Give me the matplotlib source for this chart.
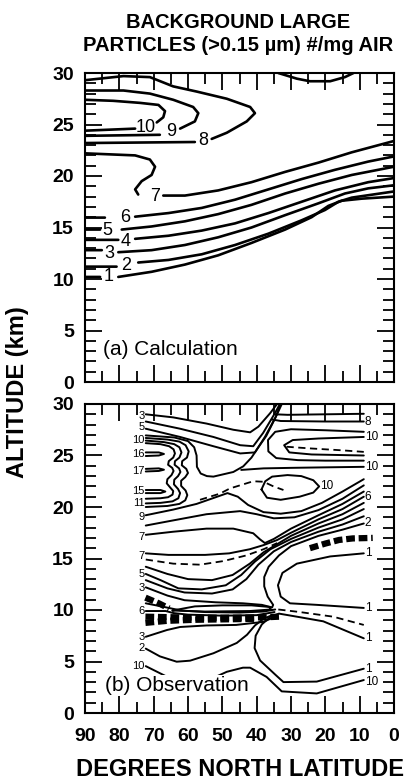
import matplotlib
matplotlib.use("Agg")
import matplotlib.pyplot as plt
import numpy as np

plt.rcParams['font.family'] = ['Liberation Sans', 'DejaVu Sans']

nan = np.nan

# ── Panel (a) calculation: contour traces (lat, km); nan = gap for label ─────
a_c1 = [(90, 10.2), (85.6, 10.2), (nan, nan), (80.3, 10.2), (70.6, 10.7), (60.9, 11.4),
        (51.2, 12.3), (41.5, 13.5), (31.7, 14.8), (24.0, 16.0), (19.1, 17.1),
        (15.2, 17.6), (9.4, 17.8), (0, 18.0)]
a_c2 = [(90, 11.2), (80.8, 11.2), (nan, nan), (74.5, 11.6), (65.7, 11.85), (56.0, 12.4),
        (46.3, 13.3), (36.6, 14.4), (26.9, 15.7), (20.1, 16.7), (16.2, 17.5),
        (12.3, 17.9), (0, 18.5)]
a_c3 = [(90, 12.8), (85.1, 12.8), (nan, nan), (80.3, 12.6), (70.6, 12.8), (60.9, 13.3),
        (51.2, 14.05), (41.5, 15.0), (31.7, 16.2), (22.0, 17.35), (14.3, 18.3),
        (7.5, 18.8), (0, 19.1)]
a_c4 = [(90, 13.8), (80.3, 13.8), (nan, nan), (75.4, 13.9), (65.7, 14.2), (56.0, 14.7),
        (46.3, 15.4), (36.6, 16.4), (26.9, 17.5), (17.2, 18.6), (7.5, 19.4), (0, 19.8)]
a_c5 = [(90, 14.8), (85.6, 14.8), (nan, nan), (79.3, 14.8), (70.6, 15.1), (60.9, 15.6),
        (51.2, 16.3), (41.5, 17.2), (31.7, 18.3), (22.0, 19.25), (12.3, 20.1), (0, 20.9)]
a_c6 = [(90, 15.96), (84.2, 15.96), (nan, nan), (75.4, 16.05), (65.7, 16.4), (56.0, 16.9),
        (46.3, 17.7), (36.6, 18.7), (26.9, 19.7), (17.2, 20.6), (7.5, 21.4), (0, 21.9)]
a_c7 = [(90, 22.2), (75.4, 22.0), (71.1, 21.6), (69.6, 20.9), (70.6, 20.1), (73.5, 19.5),
        (75.4, 18.7), (74.5, 18.2), (nan, nan), (67.2, 18.1), (60.9, 18.1), (51.2, 18.6),
        (41.5, 19.4), (31.7, 20.4), (22.0, 21.3), (12.3, 22.3), (0, 23.4)]
a_c8 = [(90, 23.2), (58.0, 23.3), (nan, nan), (53.1, 23.6), (48.7, 24.2), (42.9, 25.3),
        (40.5, 26.1), (41.9, 26.7), (48.7, 27.5), (57.5, 28.2), (64.3, 28.7),
        (71.1, 29.6), (78.8, 29.7), (90, 29.3)]
a_c9 = [(90, 23.9), (68.2, 24.0), (nan, nan), (62.3, 24.6), (58.0, 25.3), (57.0, 26.1),
        (58.5, 26.7), (64.3, 27.4), (71.1, 28.0), (78.8, 28.3), (90, 28.3)]
a_c10 = [(90, 24.4), (75.4, 24.6), (nan, nan), (69.1, 25.2), (67.2, 25.7), (66.7, 26.3),
         (68.6, 26.9), (74.0, 27.1), (81.8, 27.3), (90, 27.4)]
a_top = [(33.7, 30.0), (28.3, 29.45), (24.5, 29.2), (18.6, 29.2), (14.3, 29.6), (11.8, 30.0)]

a_lines = [a_c1, a_c2, a_c3, a_c4, a_c5, a_c6, a_c7, a_c8, a_c9, a_c10, a_top]
a_labels = ["1", "2", "3", "4", "5", "6", "7", "8", "9", "10"]
a_label_pos = [(83.2, 10.2), (77.9, 11.35), (83.0, 12.5), (78.2, 13.6), (83.4, 14.7),
               (78.2, 15.95), (69.6, 18.05), (55.5, 23.45), (65.0, 24.3), (72.2, 24.75)]

# ── Panel (b) observation: contour traces (lat, km) ──────────────────────────
b_top3 = [(72.3, 29.0), (64.3, 28.7), (54.6, 28.1), (46.8, 27.5), (41.9, 27.25),
          (39.5, 27.8), (36.1, 29.1), (33.6, 30.2)]
b_top4 = [(72.3, 28.3), (62.3, 27.6), (52.6, 26.8), (44.8, 26.0), (41.0, 25.9),
          (38.1, 27.2), (34.7, 29.1), (32.9, 30.2)]
b_top5 = [(72.3, 27.6), (62.3, 26.8), (52.6, 25.9), (44.8, 25.2), (40.5, 25.3),
          (37.6, 26.8), (34.2, 28.9), (32.4, 30.2)]
b_w1 = [(72.3, 26.2), (68.0, 26.1), (65.5, 25.9), (64.2, 25.6), (63.8, 25.2), (64.3, 24.8),
        (65.6, 24.45), (65.8, 24.1), (64.6, 23.8), (64.2, 23.5), (64.8, 23.1), (66.0, 22.7),
        (66.2, 22.3), (65.2, 21.9), (64.3, 21.55), (64.5, 21.2), (65.8, 20.95), (68.0, 20.85),
        (72.3, 20.8)]
b_w2 = [(72.3, 26.45), (67.0, 26.3), (64.0, 26.1), (62.5, 25.8), (61.9, 25.3), (62.5, 24.8),
        (63.8, 24.45), (63.9, 24.1), (62.6, 23.75), (62.2, 23.4), (62.9, 23.0), (64.0, 22.65),
        (64.1, 22.2), (62.9, 21.75), (62.3, 21.35), (62.8, 20.85), (64.5, 20.55), (68.0, 20.4),
        (72.3, 20.35)]
b_w3 = [(72.3, 26.7), (66.0, 26.55), (62.5, 26.35), (60.7, 26.0), (59.8, 25.4), (60.3, 24.8),
        (61.7, 24.45), (61.8, 24.05), (60.5, 23.7), (60.0, 23.3), (60.8, 22.9), (62.0, 22.55),
        (62.0, 22.05), (60.7, 21.6), (60.2, 21.15), (60.8, 20.65), (62.5, 20.3), (66.0, 20.1),
        (72.3, 20.0)]
b_w10 = [(72.3, 26.95), (64.0, 26.75), (60.0, 26.4), (58.2, 25.8), (57.5, 25.0), (57.4, 23.9),
         (56.3, 23.25), (54.5, 23.0), (52.6, 22.95), (46.8, 23.4), (43.9, 23.95), (41.5, 24.8),
         (39.5, 25.8), (37.2, 26.9), (34.5, 28.7), (32.8, 30.2)]
b_t16 = [(72.3, 25.3), (68.5, 25.3), (67.0, 25.15), (68.5, 25.0), (72.3, 24.95)]
b_t17 = [(72.3, 23.7), (68.5, 23.75), (67.0, 23.62), (68.5, 23.5), (72.3, 23.45)]
b_t15 = [(72.3, 21.65), (68.0, 21.65), (66.6, 21.5), (68.0, 21.35), (72.3, 21.35)]
b_r29 = [(34.6, 29.0), (31.0, 28.95), (20.0, 29.0), (8.8, 29.05)]
b_r8 = [(35.6, 28.5), (33.0, 28.35), (20.0, 28.3), (8.8, 28.3)]
b_u_out = [(8.8, 27.3), (20.0, 27.45), (30.0, 27.55), (34.6, 27.3), (36.7, 26.5), (36.6, 25.4),
           (34.3, 24.75), (28.0, 24.55), (20.0, 24.5), (8.8, 24.5)]
b_u_in = [(8.8, 26.8), (22.0, 26.65), (29.5, 26.5), (32.0, 26.0), (30.5, 25.3), (24.0, 25.1),
          (8.8, 25.0)]
b_r10 = [(44.5, 23.6), (38.0, 23.75), (30.0, 23.8), (20.0, 23.85), (8.8, 23.9)]
b_loop10 = [(38.6, 21.7), (37.5, 22.5), (35.5, 22.95), (31.0, 23.1), (27.0, 23.0), (23.5, 22.6),
            (21.8, 22.0), (23.5, 21.4), (27.5, 21.0), (33.0, 20.7), (37.0, 20.9), (38.6, 21.7)]
b_s9 = [(72.3, 19.2), (64.3, 19.75), (57.5, 20.3), (51.5, 21.0), (48.5, 21.35), (45.5, 21.0),
        (42.5, 20.2), (38.0, 19.5), (33.0, 19.35), (27.0, 19.6), (21.0, 20.4), (15.0, 21.5),
        (8.8, 22.7)]
b_s8 = [(72.3, 18.2), (64.3, 18.7), (54.6, 19.3), (44.8, 19.6), (40.0, 19.3), (35.0, 18.9),
        (29.0, 19.0), (22.0, 19.7), (15.0, 20.8), (8.8, 22.1)]
b_c7u = [(72.3, 17.3), (64.3, 17.6), (54.6, 17.9), (46.8, 17.9), (41.0, 17.45), (39.0, 16.85),
         (37.6, 16.5), (35.0, 16.9), (30.0, 17.9), (22.0, 19.2), (15.0, 20.3), (8.8, 21.5)]
b_c7l = [(72.3, 15.5), (65.7, 15.35), (55.0, 15.35), (48.0, 15.5), (42.0, 15.9), (38.0, 16.3),
         (34.0, 16.8), (30.0, 17.5), (22.0, 18.8), (15.0, 19.8), (8.8, 21.0)]
b_c6 = [(72.3, 14.2), (66.0, 13.5), (60.0, 13.0), (53.0, 12.9), (47.0, 13.4), (42.0, 14.5),
        (38.0, 15.6), (34.0, 16.4), (30.0, 17.2), (22.0, 18.4), (15.0, 19.3), (8.8, 20.4)]
b_c5 = [(72.3, 13.5), (68.0, 12.9), (62.8, 12.1), (56.0, 12.0), (49.0, 12.4), (44.5, 13.4),
        (40.5, 14.7), (36.0, 15.9), (30.0, 16.9), (22.0, 18.0), (15.0, 18.8), (8.8, 19.8)]
b_c4 = [(72.3, 12.9), (66.0, 12.1), (61.0, 11.7), (53.0, 11.6), (47.0, 12.0), (43.0, 13.0),
        (39.5, 14.4), (35.0, 15.7), (30.0, 16.6), (22.0, 17.6), (15.0, 18.3), (8.8, 19.1)]
b_c3 = [(72.3, 12.2), (66.0, 11.4), (61.0, 10.95), (52.0, 10.75), (44.0, 10.65), (38.5, 10.5),
        (35.5, 10.25), (35.2, 10.5), (36.8, 11.3), (37.8, 12.3), (37.8, 13.2), (36.5, 14.2),
        (33.5, 15.3), (30.0, 16.2), (22.0, 17.2), (15.0, 17.8), (8.8, 18.4)]
b_band1 = [(72.3, 10.65), (67.0, 10.3), (62.0, 9.95), (55.0, 9.8), (45.0, 9.75), (38.0, 9.85),
           (34.6, 10.05)]
b_band6 = [(72.3, 9.9), (66.5, 9.9), (64.2, 9.7), (60.0, 9.55), (50.0, 9.45), (40.0, 9.5),
           (34.8, 9.8)]
b_lens = [(64.5, 9.95), (58.0, 10.35), (50.0, 10.45), (41.5, 10.45), (36.4, 10.3), (35.8, 10.05),
          (42.0, 9.9), (55.0, 9.85), (64.5, 9.95)]
b_c3low = [(72.3, 7.4), (66.1, 8.06), (62.3, 8.35), (54.6, 8.5), (46.0, 8.55), (38.0, 8.85),
           (35.0, 9.3)]
b_c2 = [(72.3, 6.25), (68.2, 5.5), (63.3, 4.98), (59.4, 5.08), (52.6, 5.8), (45.8, 6.8),
        (42.8, 7.6), (40.5, 8.5), (38.0, 9.15), (35.5, 9.5)]
b_c1up = [(8.8, 15.5), (18.6, 15.2), (28.3, 14.5), (32.5, 13.6), (33.8, 12.4), (33.0, 11.3),
          (30.3, 10.65), (22.5, 10.5), (8.8, 10.2)]
b_c1low = [(8.8, 7.25), (20.6, 8.9), (27.4, 9.3), (33.5, 9.65), (36.0, 9.35), (38.5, 8.6),
           (40.3, 7.5), (40.6, 6.3), (39.0, 5.1), (34.5, 3.7), (32.2, 3.0), (22.5, 3.05),
           (8.8, 4.3)]
b_c10low = [(72.3, 4.55), (66.0, 3.5), (60.0, 3.15), (52.0, 3.5), (48.7, 4.0), (44.0, 4.4),
            (41.9, 4.4), (37.1, 3.5), (32.7, 2.1), (22.5, 1.9), (8.8, 3.2)]

b_solid = [b_top3, b_top4, b_top5, b_w1, b_w2, b_w3, b_w10, b_t16, b_t17, b_t15,
           b_r29, b_r8, b_u_out, b_u_in, b_r10, b_loop10, b_s9, b_s8, b_c7u, b_c7l,
           b_c6, b_c5, b_c4, b_c3, b_band1, b_band6, b_lens, b_c3low, b_c2,
           b_c1up, b_c1low, b_c10low]

# dashed traces
b_dash_saddle = [(56.5, 20.7), (50.7, 21.3), (47.8, 21.8), (41.0, 22.5), (38.0, 22.45),
                 (35.1, 22.0), (32.2, 21.65)]
b_dash_u = [(31.3, 25.85), (25.0, 25.7), (15.0, 25.5), (8.8, 25.35)]
b_dash_7 = [(72.3, 14.9), (64.3, 14.5), (56.5, 14.4), (49.7, 14.75), (43.0, 15.3),
            (38.0, 15.9), (34.0, 16.5)]
b_dash_1 = [(33.7, 10.05), (27.4, 9.8), (17.7, 9.35), (8.8, 8.55)]
b_dashed = [b_dash_saddle, b_dash_u, b_dash_7, b_dash_1]

# heavy dashed traces
b_heavy_tp = [(24.5, 16.0), (20.0, 16.45), (16.0, 16.8), (12.0, 16.95), (6.2, 17.0)]
b_heavy_wedge = [(72.4, 11.2), (68.5, 10.65), (65.5, 10.15)]
b_heavy_up = [(72.4, 9.35), (65.0, 9.3), (55.0, 9.25), (45.0, 9.25), (37.0, 9.3), (33.5, 9.35)]
b_heavy_lo = [(72.4, 8.75), (66.0, 8.95), (58.0, 9.05), (48.0, 9.1), (40.0, 9.15)]
b_heavy = [b_heavy_tp, b_heavy_wedge, b_heavy_up, b_heavy_lo]

b_left_labels = ["3", "5", "10", "16", "17", "15", "11", "9", "7", "7", "5", "3", "6", "3", "2", "10"]
b_left_alt = [28.8, 27.75, 26.5, 25.1, 23.5, 21.55, 20.35, 19.0, 17.1, 15.2, 13.5, 12.1, 9.9, 7.4, 6.3, 4.6]
b_right_labels = ["8", "10", "10", "6", "2", "1", "1", "1", "1", "10"]
b_right_alt = [28.3, 26.8, 23.9, 21.0, 18.4, 15.5, 10.2, 7.3, 4.3, 3.0]

# ── Plot ─────────────────────────────────────────────────────────────────────
fig = plt.figure(figsize=(4.04, 7.82), dpi=100)
ax_a = fig.add_axes([85 / 404, 1 - 382 / 782, 309 / 404, 309 / 782])
ax_b = fig.add_axes([85 / 404, 1 - 713 / 782, 309 / 404, 309 / 782])


def trace(ax, pts, **kw):
    arr = np.array(pts, dtype=float)
    ax.plot(arr[:, 0], arr[:, 1], **kw)


for ax in (ax_a, ax_b):
    ax.set_xlim(90, 0)
    ax.set_ylim(0, 30)
    ax.set_xticks(range(0, 91, 10))
    ax.set_xticks(range(5, 90, 10), minor=True)
    ax.set_yticks(range(0, 31, 5))
    ax.set_yticks(range(0, 31), minor=True)
    ax.tick_params(which="both", direction="in", top=True, right=True,
                   width=1.3, labelsize=14, pad=8)
    ax.tick_params(which="major", length=12)
    ax.tick_params(which="minor", length=8)
    for lab in ax.get_xticklabels() + ax.get_yticklabels():
        lab.set_fontweight("bold")
    for sp in ax.spines.values():
        sp.set_linewidth(1.5)

ax_a.tick_params(labelbottom=False)
ax_b.tick_params(axis="x", pad=11)

# panel (a)
for pts in a_lines:
    trace(ax_a, pts, color="black", lw=1.9, solid_joinstyle="round",
          solid_capstyle="round")
for lab, (x, y) in zip(a_labels, a_label_pos):
    ax_a.text(x, y, lab, fontsize=13, ha="center", va="center")
ax_a.text(84.8, 3.2, "(a) Calculation", fontsize=15, ha="left", va="center")

# panel (b)
for pts in b_solid:
    trace(ax_b, pts, color="black", lw=1.4, solid_joinstyle="round",
          solid_capstyle="round")
for pts in b_dashed:
    trace(ax_b, pts, color="black", lw=1.3, dashes=(4, 2.5))
for pts in b_heavy:
    trace(ax_b, pts, color="black", lw=4.5, dashes=(1.4, 0.6),
          dash_capstyle="butt")
for lab, y in zip(b_left_labels, b_left_alt):
    ax_b.text(72.6, y, lab, fontsize=8, ha="right", va="center")
for lab, y in zip(b_right_labels, b_right_alt):
    ax_b.text(8.5, y, lab, fontsize=8.5, ha="left", va="center")
ax_b.text(19.6, 22.0, "10", fontsize=8.5, ha="center", va="center")
ax_b.text(84.2, 2.7, "(b) Observation", fontsize=15, ha="left", va="center",
          bbox=dict(facecolor="white", edgecolor="none", pad=0.5), zorder=5)

fig.text(0.589, 1 - 34 / 782, "BACKGROUND LARGE\nPARTICLES (>0.15 \u00b5m) #/mg AIR",
         ha="center", va="center", fontsize=14.5, fontweight="bold", linespacing=1.25)
fig.text(18 / 404, 1 - 392 / 782, "ALTITUDE (km)", rotation=90, ha="center",
         va="center", fontsize=17, fontweight="bold")
fig.text(240 / 404, 1 - 769 / 782, "DEGREES NORTH LATITUDE", ha="center",
         va="center", fontsize=17, fontweight="bold")

fig.savefig("out.png", dpi=100)
